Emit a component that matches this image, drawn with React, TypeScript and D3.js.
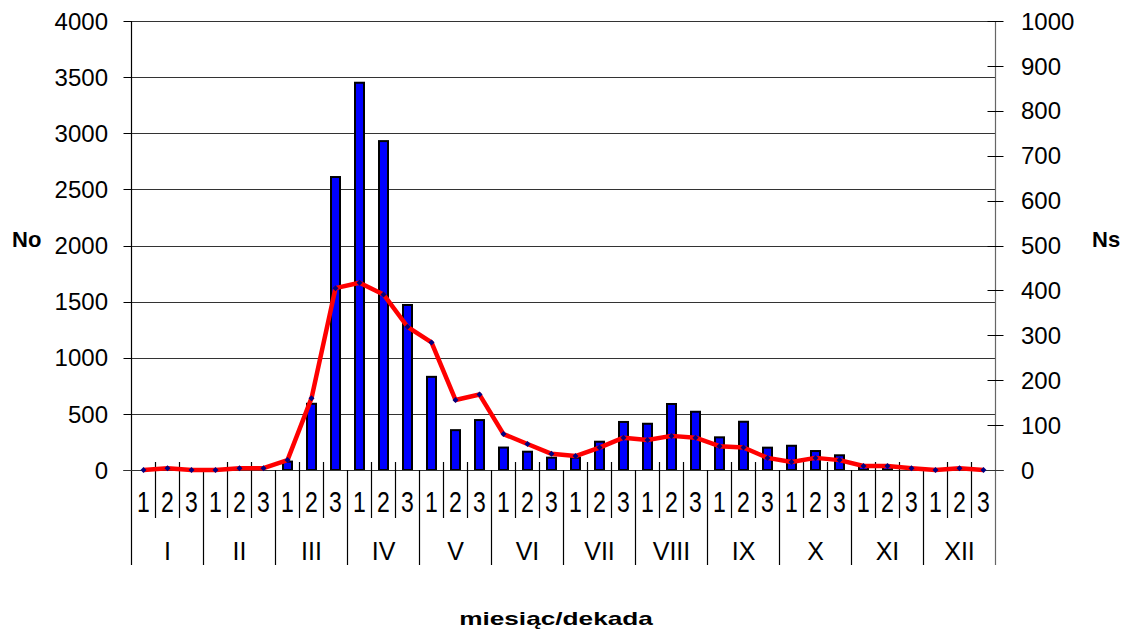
import * as d3 from 'd3';

// months and decades
const months = ['I', 'II', 'III', 'IV', 'V', 'VI', 'VII', 'VIII', 'IX', 'X', 'XI', 'XII'];
const decades = ['1', '2', '3'];

// No (bars, left axis) per decade
const noValues = [
  0, 0, 0,
  0, 0, 0,
  75, 590, 2610,
  3450, 2930, 1470,
  830, 355, 445,
  200, 163, 110,
  110, 252, 428,
  412, 588, 519,
  291, 430, 199,
  216, 169, 131,
  40, 30, 0,
  0, 0, 0,
];

// Ns (line, right axis) per decade
const nsValues = [
  0, 4, 0,
  0, 4, 4,
  22, 160, 405,
  417, 391, 319,
  284, 156, 168,
  80, 58, 36,
  31, 50, 72,
  67, 76, 72,
  53, 50, 27,
  18, 27, 22,
  9, 9, 4,
  0, 4, 0,
];

const leftTicks = [0, 500, 1000, 1500, 2000, 2500, 3000, 3500, 4000];
const rightTicks = [0, 100, 200, 300, 400, 500, 600, 700, 800, 900, 1000];

const FONT = '"Liberation Sans", Arial, Helvetica, sans-serif';

export default function App() {
  const W = 1129;
  const H = 633;
  const left = 131.5;
  const right = 995.5;
  const top = 21;
  const bottom = 470;

  const cats = d3.range(noValues.length);
  const x = d3.scaleBand<number>().domain(cats).range([left, right]).paddingInner(0).paddingOuter(0);
  const yL = d3.scaleLinear().domain([0, 4000]).range([bottom, top]);
  const yR = d3.scaleLinear().domain([0, 1000]).range([bottom, top]);
  const bw = x.bandwidth();
  const barW = 9;

  const line = d3.line<number>()
    .x((_, i) => x(i)! + bw / 2)
    .y(d => yR(d));

  return (
    <svg width={W} height={H} style={{ position: 'absolute', left: 0, top: 0, background: '#fff' }} fontFamily={FONT}>
      {/* gridlines */}
      {leftTicks.filter(t => t > 0).map(t => (
        <line key={'g' + t} x1={left} x2={right} y1={Math.round(yL(t)) + 0.5} y2={Math.round(yL(t)) + 0.5} stroke="#333" strokeWidth={1} />
      ))}

      {/* bars */}
      {noValues.map((v, i) => v > 0 && (
        <rect key={'b' + i} x={x(i)! + bw / 2 - barW / 2} y={yL(v)} width={barW} height={bottom - yL(v)}
          fill="#0000ff" stroke="#000" strokeWidth={2} />
      ))}

      {/* left axis */}
      <line x1={left} x2={left} y1={top} y2={565} stroke="#000" strokeWidth={1.2} />
      {leftTicks.map(t => (
        <g key={'l' + t}>
          <line x1={left - 8} x2={left} y1={Math.round(yL(t)) + 0.5} y2={Math.round(yL(t)) + 0.5} stroke="#000" />
          <text x={108} y={yL(t)} dy="0.36em" textAnchor="end" fontSize={24} fill="#000">{t}</text>
        </g>
      ))}

      {/* right axis */}
      <line x1={right} x2={right} y1={top} y2={565} stroke="#666" strokeWidth={1.2} />
      {rightTicks.map(t => (
        <g key={'r' + t}>
          <line x1={right - 8} x2={right + 8} y1={Math.round(yR(t)) + 0.5} y2={Math.round(yR(t)) + 0.5} stroke="#000" />
          <text x={1021} y={yR(t)} dy="0.36em" textAnchor="start" fontSize={24} fill="#000">{t}</text>
        </g>
      ))}

      {/* category axis */}
      <line x1={left - 8} x2={right + 8} y1={bottom + 0.5} y2={bottom + 0.5} stroke="#333" strokeWidth={1.2} />
      {cats.map(i => {
        const xb = x(i)!;
        const isMonth = i % 3 === 0;
        return i > 0 && (
          <line key={'t' + i} x1={xb} x2={xb} y1={isMonth ? bottom : 462} y2={isMonth ? 565 : 518}
            stroke="#000" strokeWidth={1.2} />
        );
      })}
      {cats.map(i => (
        <text key={'d' + i} transform={`translate(${x(i)! + bw / 2},501) scale(1,1.32)`} dy="0.36em"
          textAnchor="middle" fontSize={23} fill="#000">{decades[i % 3]}</text>
      ))}
      {months.map((m, k) => (
        <text key={'m' + m} x={x(k * 3)! + bw * 1.5} y={551} dy="0.36em" textAnchor="middle" fontSize={25} fill="#000">{m}</text>
      ))}

      {/* Ns line */}
      <path d={line(nsValues) ?? ''} fill="none" stroke="#ff0000" strokeWidth={4.5} strokeLinejoin="round" />
      {nsValues.map((v, i) => {
        const cx = x(i)! + bw / 2;
        const cy = yR(v);
        return <path key={'p' + i} d={`M${cx},${cy - 3}L${cx + 3},${cy}L${cx},${cy + 3}L${cx - 3},${cy}Z`} fill="#000080" />;
      })}

      {/* axis titles */}
      <text x={12} y={247} fontSize={22} fontWeight="bold" fill="#000">No</text>
      <text x={1092} y={247} fontSize={22} fontWeight="bold" fill="#000">Ns</text>
      <text transform="translate(556,625) scale(1.38,1)" textAnchor="middle" fontSize={19} fontWeight="bold" fill="#000">miesiąc/dekada</text>
    </svg>
  );
}
